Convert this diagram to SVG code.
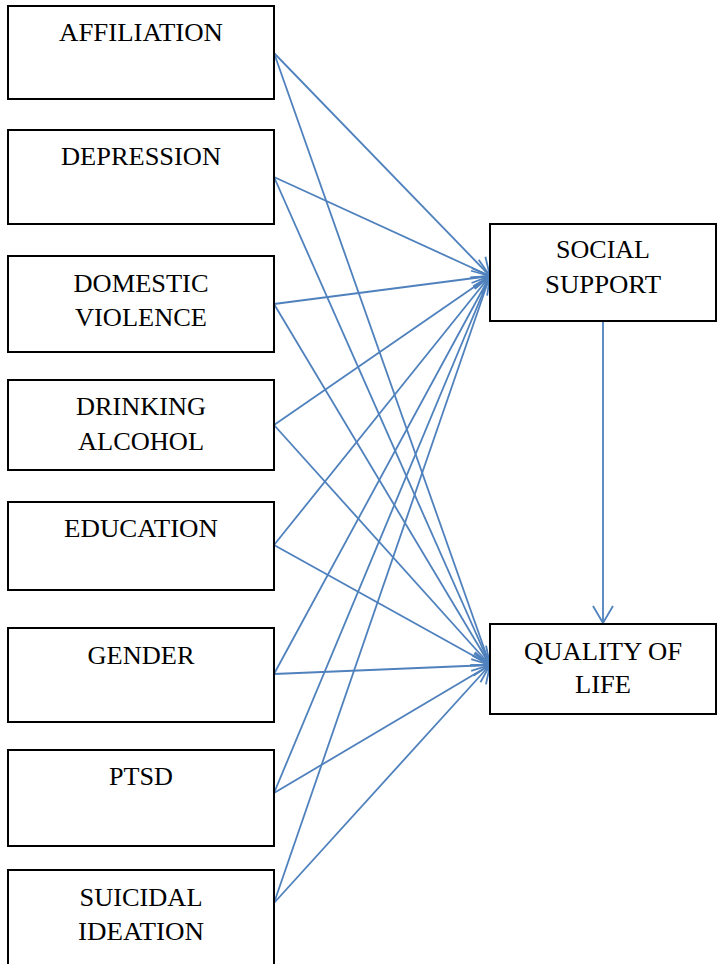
<svg xmlns="http://www.w3.org/2000/svg" width="719" height="964" viewBox="0 0 719 964">
<style>
.box{fill:#fff;stroke:#000;stroke-width:2}
.t{font-family:"Liberation Serif","Times New Roman",serif;font-size:25.5px;fill:#000;text-anchor:middle}
.c{stroke:#4F81BD;stroke-width:1.8;fill:none;marker-end:url(#ah)}
</style>
<defs>
<marker id="ah" markerUnits="userSpaceOnUse" viewBox="-20 -12 22 24" refX="0" refY="0" markerWidth="22" markerHeight="24" orient="auto">
<path d="M-17,-10 L0,0 L-17,10" fill="none" stroke="#4F81BD" stroke-width="1.8"/>
</marker>
</defs>
<rect width="719" height="964" fill="#fff"/>
<g id="connectors">
<line class="c" x1="274" y1="53" x2="490" y2="276"/>
<line class="c" x1="274" y1="53" x2="490" y2="665"/>
<line class="c" x1="274" y1="177" x2="490" y2="276"/>
<line class="c" x1="274" y1="177" x2="490" y2="665"/>
<line class="c" x1="274" y1="304" x2="490" y2="276"/>
<line class="c" x1="274" y1="304" x2="490" y2="665"/>
<line class="c" x1="274" y1="425" x2="490" y2="276"/>
<line class="c" x1="274" y1="425" x2="490" y2="665"/>
<line class="c" x1="274" y1="545" x2="490" y2="276"/>
<line class="c" x1="274" y1="545" x2="490" y2="665"/>
<line class="c" x1="274" y1="674" x2="490" y2="276"/>
<line class="c" x1="274" y1="674" x2="490" y2="665"/>
<line class="c" x1="274" y1="793" x2="490" y2="276"/>
<line class="c" x1="274" y1="793" x2="490" y2="665"/>
<line class="c" x1="274" y1="903" x2="490" y2="276"/>
<line class="c" x1="274" y1="903" x2="490" y2="665"/>
<line class="c" x1="603" y1="322" x2="603" y2="623"/>
</g>
<g id="affiliation"><rect class="box" x="8" y="6" width="266" height="93"/><text class="t" x="141" y="41" textLength="164" lengthAdjust="spacingAndGlyphs">AFFILIATION</text></g>
<g id="depression"><rect class="box" x="8" y="130" width="266" height="94"/><text class="t" x="141" y="165" textLength="160" lengthAdjust="spacingAndGlyphs">DEPRESSION</text></g>
<g id="domestic-violence"><rect class="box" x="8" y="256" width="266" height="96"/><text class="t" x="141" y="292" textLength="135" lengthAdjust="spacingAndGlyphs">DOMESTIC</text><text class="t" x="141" y="326" textLength="132" lengthAdjust="spacingAndGlyphs">VIOLENCE</text></g>
<g id="drinking-alcohol"><rect class="box" x="8" y="380" width="266" height="90"/><text class="t" x="141" y="415" textLength="130" lengthAdjust="spacingAndGlyphs">DRINKING</text><text class="t" x="141" y="450" textLength="126" lengthAdjust="spacingAndGlyphs">ALCOHOL</text></g>
<g id="education"><rect class="box" x="8" y="502" width="266" height="88"/><text class="t" x="141" y="537" textLength="154" lengthAdjust="spacingAndGlyphs">EDUCATION</text></g>
<g id="gender"><rect class="box" x="8" y="628" width="266" height="94"/><text class="t" x="141" y="664" textLength="107" lengthAdjust="spacingAndGlyphs">GENDER</text></g>
<g id="ptsd"><rect class="box" x="8" y="750" width="266" height="96"/><text class="t" x="141" y="785" textLength="64" lengthAdjust="spacingAndGlyphs">PTSD</text></g>
<g id="suicidal-ideation"><rect class="box" x="8" y="870" width="266" height="100"/><text class="t" x="141" y="906" textLength="123" lengthAdjust="spacingAndGlyphs">SUICIDAL</text><text class="t" x="141" y="940" textLength="126" lengthAdjust="spacingAndGlyphs">IDEATION</text></g>
<g id="social-support"><rect class="box" x="490" y="224" width="226" height="97"/><text class="t" x="603" y="258" textLength="94" lengthAdjust="spacingAndGlyphs">SOCIAL</text><text class="t" x="603" y="293" textLength="116" lengthAdjust="spacingAndGlyphs">SUPPORT</text></g>
<g id="quality-of-life"><rect class="box" x="490" y="624" width="226" height="90"/><text class="t" x="603" y="660" textLength="158" lengthAdjust="spacingAndGlyphs">QUALITY OF</text><text class="t" x="603" y="693" textLength="56" lengthAdjust="spacingAndGlyphs">LIFE</text></g>
</svg>
